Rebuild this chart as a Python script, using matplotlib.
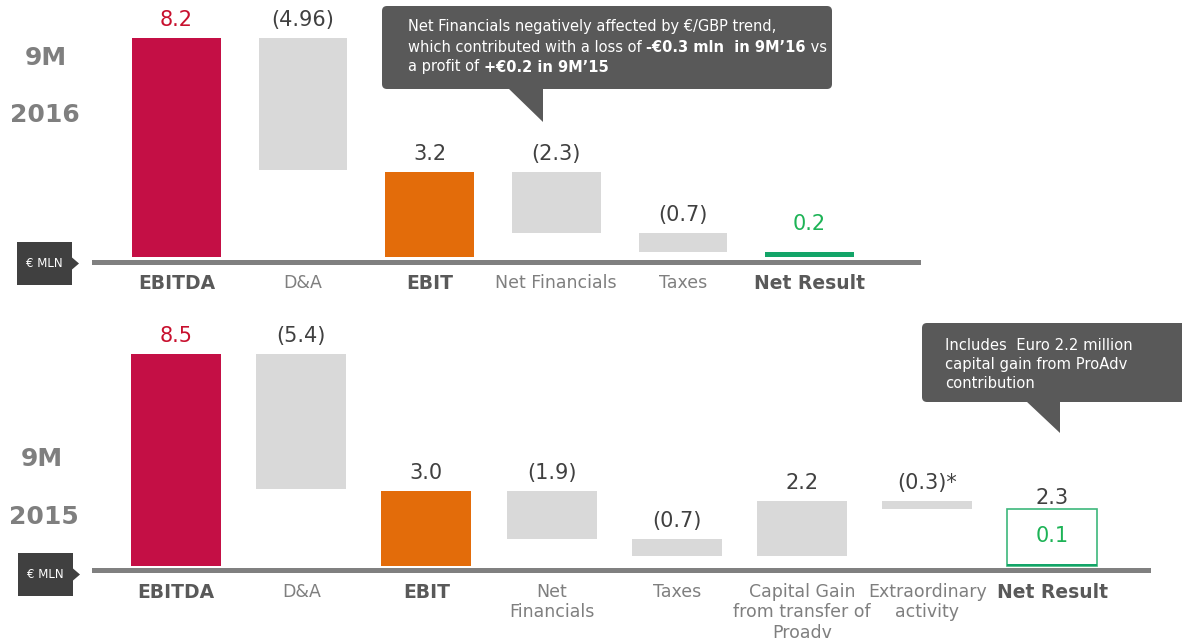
import matplotlib
matplotlib.use("Agg")
import matplotlib.pyplot as plt
from matplotlib.patches import FancyBboxPatch, Polygon, Rectangle

W, H, DPI = 1182, 640, 100

# 9M 2016 waterfall
cats_2016 = ["EBITDA", "D&A", "EBIT", "Net Financials", "Taxes", "Net Result"]
vals_2016 = [8.2, -4.96, 3.2, -2.3, -0.7, 0.2]
labels_2016 = ["8.2", "(4.96)", "3.2", "(2.3)", "(0.7)", "0.2"]
kinds_2016 = ["total", "delta", "total", "delta", "delta", "total"]

# 9M 2015 waterfall
cats_2015 = ["EBITDA", "D&A", "EBIT", "Net\nFinancials", "Taxes",
             "Capital Gain\nfrom transfer of\nProadv", "Extraordinary\nactivity",
             "Net Result"]
vals_2015 = [8.5, -5.4, 3.0, -1.9, -0.7, 2.2, -0.3, 2.3]
labels_2015 = ["8.5", "(5.4)", "3.0", "(1.9)", "(0.7)", "2.2", "(0.3)*", "2.3"]
kinds_2015 = ["total", "delta", "total", "delta", "delta", "delta", "delta", "outline"]
net_excl_gain_2015 = 0.1

note_2016 = [
    [("Net Financials negatively affected by €/GBP trend,", "normal")],
    [("which contributed with a loss of ", "normal"), ("-€0.3 mln  in 9M’16", "bold"), (" vs", "normal")],
    [("a profit of ", "normal"), ("+€0.2 in 9M’15", "bold")],
]
note_2015 = ["Includes  Euro 2.2 million", "capital gain from ProAdv", "contribution"]

RED = "#C40F45"
ORANGE = "#E36C0A"
GREY_BAR = "#D9D9D9"
GREEN = "#13A468"
GREEN_TXT = "#1DB356"
VAL_TXT = "#404040"
BOX = "#595959"

plt.rcParams["font.family"] = ["DejaVu Sans"]

fig = plt.figure(figsize=(W / DPI, H / DPI), dpi=DPI)


def px_axes(x0, x1, y0, y1):
    return fig.add_axes([x0 / W, 1 - y1 / H, (x1 - x0) / W, (y1 - y0) / H])


def waterfall(ax, cats, vals, labels, kinds, total_colors, px, first_x, step, zero_px, scale, width):
    x0, x1, y0, y1 = px
    ax.set_xlim((x0 - first_x) / step, (x1 - first_x) / step)
    ax.set_ylim((zero_px - y1) / scale, (zero_px - y0) / scale)
    for side in ["top", "left", "right"]:
        ax.spines[side].set_visible(False)
    ax.spines["bottom"].set_color("#808080")
    ax.spines["bottom"].set_linewidth(3.6)
    ax.set_xticks([])
    ax.set_yticks([])
    ax.patch.set_visible(False)

    level = 0.0
    colors = iter(total_colors)
    for i, (c, v, lab, kind) in enumerate(zip(cats, vals, labels, kinds)):
        bold = kind != "delta"
        if kind == "total":
            bottom, top = 0, v
            level = v
            col = next(colors)
            ax.bar(i, v, width=width, color=col, linewidth=0)
        elif kind == "delta":
            bottom, top = min(level, level + v), max(level, level + v)
            ax.bar(i, top - bottom, bottom=bottom, width=width, color=GREY_BAR, linewidth=0)
            level += v
        else:
            bottom, top = 0, v
            ax.bar(i, v, width=width, facecolor="none", edgecolor="#3DB77B", linewidth=1.2)
            ax.bar(i, net_excl_gain_2015, width=width, color=GREEN, linewidth=0)
            ax.annotate(f"{net_excl_gain_2015:.1f}", (i, net_excl_gain_2015), xytext=(0, 20),
                        textcoords="offset points", ha="center", va="center",
                        fontsize=15, color=GREEN_TXT)
        if i == 0:
            tcol = "#C8102E"
        elif kind == "total" and c == "Net Result":
            tcol = GREEN_TXT
        else:
            tcol = VAL_TXT
        off = 13
        if c == "Net Result" and kind == "total":
            off = 20
        if kind == "outline":
            off = 8
        ax.annotate(lab, (i, top), xytext=(0, off), textcoords="offset points",
                    ha="center", va="center", fontsize=15, color=tcol)
        ax.annotate(c, (i, 0), xytext=(0, -12), textcoords="offset points",
                    ha="center", va="top", fontsize=13.5 if bold else 12.5,
                    fontweight="bold" if bold else "normal",
                    color="#595959" if bold else "#7F7F7F", linespacing=1.2,
                    annotation_clip=False)


ax_top = px_axes(94, 918, 0, 262)
waterfall(ax_top, cats_2016, vals_2016, labels_2016, kinds_2016, [RED, ORANGE, GREEN],
          (94, 918, 0, 262), 176.5, 126.6, 257, 26.7, 0.70)

ax_bot = px_axes(94, 1148, 300, 570)
waterfall(ax_bot, cats_2015, vals_2015, labels_2015, kinds_2015, [RED, ORANGE],
          (94, 1148, 300, 570), 176, 125.2, 566, 24.9, 0.72)

# overlay in pixel coordinates for annotations
ov = fig.add_axes([0, 0, 1, 1])
ov.set_xlim(0, W)
ov.set_ylim(H, 0)
ov.axis("off")
ov.patch.set_visible(False)

for txt, x, y in [("9M", 46, 58), ("2016", 45, 115), ("9M", 42, 459), ("2015", 44, 517)]:
    ov.text(x, y, txt, ha="center", va="center", fontsize=18, fontweight="bold", color="#7F7F7F")

for bx, by in [(17, 242), (18, 553)]:
    ov.add_patch(Rectangle((bx, by), 55, 43, color="#404040", linewidth=0))
    cy = by + 21.5
    ov.add_patch(Polygon([(bx + 55, cy - 6), (bx + 62, cy), (bx + 55, cy + 6)], color="#404040", linewidth=0))
    ov.text(bx + 27.5, cy, "€ MLN", ha="center", va="center", fontsize=8.5, color="white")

# callout boxes
ov.add_patch(FancyBboxPatch((382, 6), 450, 83, boxstyle="round,pad=0,rounding_size=5",
                            facecolor=BOX, linewidth=0))
ov.add_patch(Polygon([(508, 88), (543, 88), (543, 122)], facecolor=BOX, linewidth=0))
ov.add_patch(FancyBboxPatch((922, 323), 280, 79, boxstyle="round,pad=0,rounding_size=5",
                            facecolor=BOX, linewidth=0))
ov.add_patch(Polygon([(1026, 401), (1060, 401), (1060, 433)], facecolor=BOX, linewidth=0))

renderer = fig.canvas.get_renderer()


def text_width(s, weight, size):
    t = ov.text(0, 0, s + ".", fontsize=size, fontweight=weight)
    d = ov.text(0, 0, ".", fontsize=size, fontweight=weight)
    w = t.get_window_extent(renderer).width - d.get_window_extent(renderer).width
    t.remove()
    d.remove()
    return w


NOTE_SIZE = 10.5
for row, y in zip(note_2016, [27, 47, 67]):
    x = 408
    for s, weight in row:
        ov.text(x, y, s, ha="left", va="center", fontsize=NOTE_SIZE, fontweight=weight, color="white")
        x += text_width(s, weight, NOTE_SIZE)

for s, y in zip(note_2015, [345, 364, 383]):
    ov.text(945, y, s, ha="left", va="center", fontsize=10.6, color="white")

fig.savefig("out.png", dpi=DPI)
